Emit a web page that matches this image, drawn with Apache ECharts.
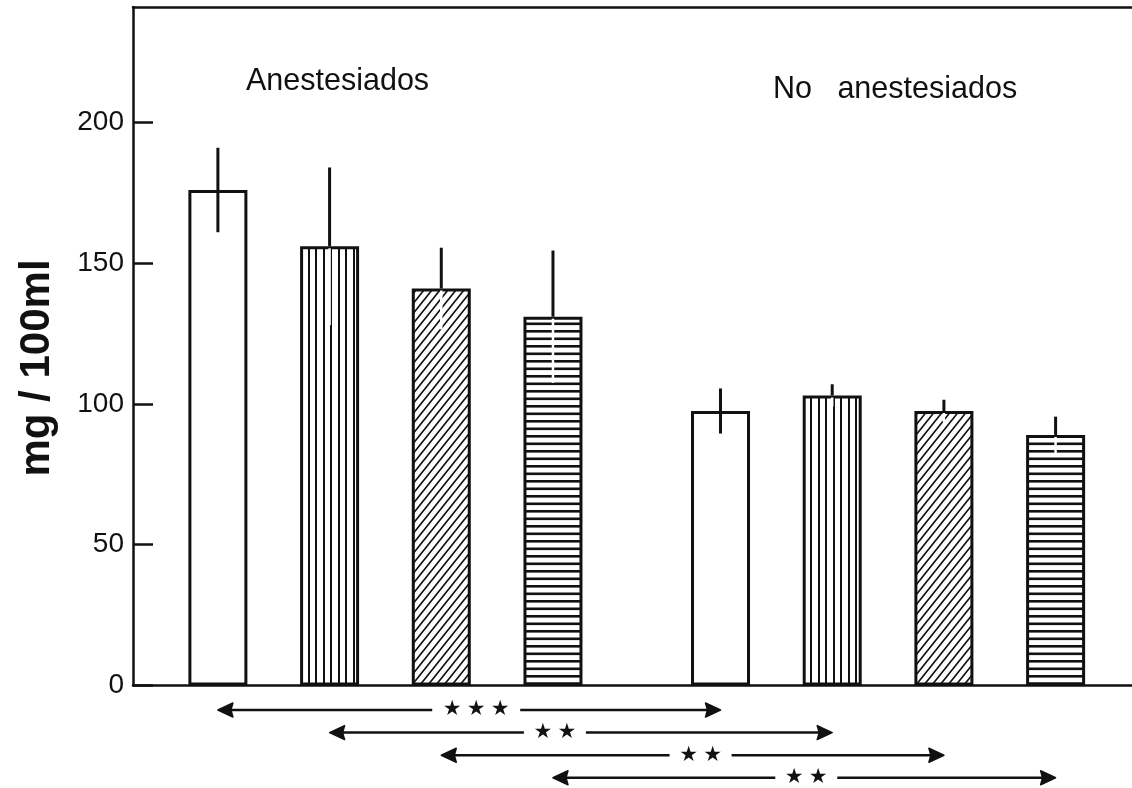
<!DOCTYPE html>
<html>
<head>
<meta charset="utf-8">
<script src="https://cdn.jsdelivr.net/npm/echarts@6/dist/echarts.min.js"></script>
<style>
  html, body { margin: 0; padding: 0; background: #fff; }
  #chart { width: 1132px; height: 788px; }
</style>
</head>
<body>
<div id="chart"></div>
<script>
// Serum level (mg/100ml), mean ± SD, four treatments in anaesthetised and non-anaesthetised animals
const groupNames = ['Anestesiados', 'No anestesiados'];
const fillStyles = ['blank', 'vertical', 'diagonal', 'horizontal'];
const means = [176, 156, 141, 131, 97.5, 103, 97.5, 89];
const sds = [15, 28, 14.5, 23.5, 8, 4, 4, 6.5];
const yTicks = [0, 50, 100, 150, 200];
const yLabel = 'mg / 100ml';
// pairs of bars compared (same treatment, anaesthetised vs not) and their significance marks
const comparisons = [[0, 4], [1, 5], [2, 6], [3, 7]];
const sigLabels = ['★★★', '★★', '★★', '★★'];

const INK = '#111';
const FONT = '"Liberation Sans", Arial, sans-serif';

// slot position on the x axis: 4 bars per group, 1.5 slots between groups
function slotOf(n) {
  const g = Math.floor(n / 4), k = n % 4;
  return 1 + k + g * 4.5;
}

// hatch fills drawn on small tiles
function makeFill(kind) {
  if (kind === 'blank') return '#fff';
  const c = document.createElement('canvas');
  const ctx = c.getContext('2d');
  if (kind === 'vertical') {
    c.width = 15; c.height = 4;
    ctx.fillStyle = '#fff'; ctx.fillRect(0, 0, 15, 4);
    ctx.fillStyle = INK; ctx.fillRect(0, 0, 2, 4); ctx.fillRect(8, 0, 2, 4);
  } else if (kind === 'horizontal') {
    c.width = 4; c.height = 15;
    ctx.fillStyle = '#fff'; ctx.fillRect(0, 0, 4, 15);
    ctx.fillStyle = INK; ctx.fillRect(0, 0, 4, 2.6); ctx.fillRect(0, 7.5, 4, 2.6);
  } else {
    const w = 8, h = 10;
    c.width = w; c.height = h;
    ctx.fillStyle = '#fff'; ctx.fillRect(0, 0, w, h);
    ctx.strokeStyle = INK; ctx.lineWidth = 1.7;
    ctx.beginPath();
    ctx.moveTo(-w, h); ctx.lineTo(w, -h);
    ctx.moveTo(0, h); ctx.lineTo(w, 0);
    ctx.moveTo(0, 2 * h); ctx.lineTo(2 * w, 0);
    ctx.stroke();
  }
  return { image: c, repeat: 'repeat' };
}

const fills = fillStyles.map(makeFill);

const barData = means.map((m, n) => ({
  value: [slotOf(n), m],
  itemStyle: { color: fills[n % 4] }
}));

const errData = means.map((m, n) => [slotOf(n), m, sds[n], n % 4 === 0 ? 0 : 1]);

const cmpData = comparisons.map((p, k) => [slotOf(p[0]), slotOf(p[1]), k]);
const starShift = [7, -26, 8, 2];

const chart = echarts.init(document.getElementById('chart'), null, { renderer: 'canvas' });

const axisInk = { show: true, lineStyle: { color: INK, width: 2.5 } };

chart.setOption({
  animation: false,
  backgroundColor: '#fff',
  grid: { left: 133, right: 0, top: 7, bottom: 102.5 },
  xAxis: [
    {
      type: 'value', position: 'bottom', min: 0.24, max: 9.184,
      axisLine: axisInk, axisTick: { show: false }, axisLabel: { show: false }, splitLine: { show: false }
    },
    {
      type: 'value', position: 'top', min: 0.24, max: 9.184,
      axisLine: axisInk, axisTick: { show: false }, axisLabel: { show: false }, splitLine: { show: false }
    }
  ],
  yAxis: {
    type: 'value', min: 0, max: 241, interval: 50,
    axisLine: axisInk,
    splitLine: { show: false },
    axisTick: {
      show: true, inside: true, length: 20,
      lineStyle: { color: INK, width: 2.5 }
    },
    axisLabel: {
      color: INK, fontSize: 28, fontFamily: FONT, margin: 9,
      showMaxLabel: false,
      formatter: v => (yTicks.indexOf(v) >= 0 ? String(v) : '')
    }
  },
  graphic: [
    {
      type: 'text', x: 246, y: 66,
      style: { text: groupNames[0], font: '30.5px ' + FONT, fill: INK, verticalAlign: 'top' }
    },
    {
      type: 'text', x: 773, y: 74,
      style: { text: groupNames[1].replace(' ', '   '), font: '30.5px ' + FONT, fill: INK, verticalAlign: 'top' }
    },
    {
      type: 'text', x: 58, y: 368, rotation: Math.PI / 2,
      style: { text: yLabel, font: 'bold 42px ' + FONT, fill: INK, align: 'center', verticalAlign: 'bottom' }
    }
  ],
  series: [
    {
      type: 'bar',
      data: barData,
      barWidth: 59,
      itemStyle: { borderColor: INK, borderWidth: 3 },
      z: 2
    },
    {
      type: 'custom',
      data: errData,
      z: 3,
      renderItem(params, api) {
        const x = api.value(0), m = api.value(1), s = api.value(2), hatched = api.value(3);
        const top = api.coord([x, m + s]);
        const mid = api.coord([x, m]);
        const bot = api.coord([x, m - s]);
        return {
          type: 'group',
          children: [
            { type: 'line', shape: { x1: top[0], y1: top[1], x2: mid[0], y2: mid[1] },
              style: { stroke: INK, lineWidth: 3 } },
            { type: 'line', shape: { x1: mid[0], y1: mid[1] + 2, x2: bot[0], y2: bot[1] },
              style: { stroke: hatched ? '#fff' : INK, lineWidth: hatched ? 2.5 : 3 } }
          ]
        };
      }
    },
    {
      type: 'custom',
      data: cmpData,
      clip: false,
      z: 4,
      renderItem(params, api) {
        const k = api.value(2);
        const xa = api.coord([api.value(0), 0])[0];
        const xb = api.coord([api.value(1), 0])[0];
        const base = api.coord([api.value(0), 0])[1];
        const y = base + 24.5 + k * 22.6;
        const stars = Array.from(sigLabels[k]);
        const sc = (xa + xb) / 2 + starShift[k];
        const pitch = 24;
        const gap = stars.length * 13 + 5;
        const children = [
          { type: 'line', shape: { x1: xa + 10, y1: y, x2: sc - gap, y2: y },
            style: { stroke: INK, lineWidth: 2.5 } },
          { type: 'line', shape: { x1: sc + gap, y1: y, x2: xb - 10, y2: y },
            style: { stroke: INK, lineWidth: 2.5 } },
          { type: 'polygon', shape: { points: [[xa, y], [xa + 15, y - 7], [xa + 13, y], [xa + 15, y + 7]] },
            style: { fill: INK, stroke: INK, lineWidth: 1.5, lineJoin: 'round' } },
          { type: 'polygon', shape: { points: [[xb, y], [xb - 15, y - 7], [xb - 13, y], [xb - 15, y + 7]] },
            style: { fill: INK, stroke: INK, lineWidth: 1.5, lineJoin: 'round' } }
        ];
        stars.forEach((ch, i) => {
          children.push({
            type: 'text',
            x: sc + (i - (stars.length - 1) / 2) * pitch,
            y: y,
            style: { text: ch, font: '21px "DejaVu Sans", sans-serif', fill: INK, align: 'center', verticalAlign: 'middle' }
          });
        });
        return { type: 'group', children };
      }
    }
  ]
});
</script>
</body>
</html>
